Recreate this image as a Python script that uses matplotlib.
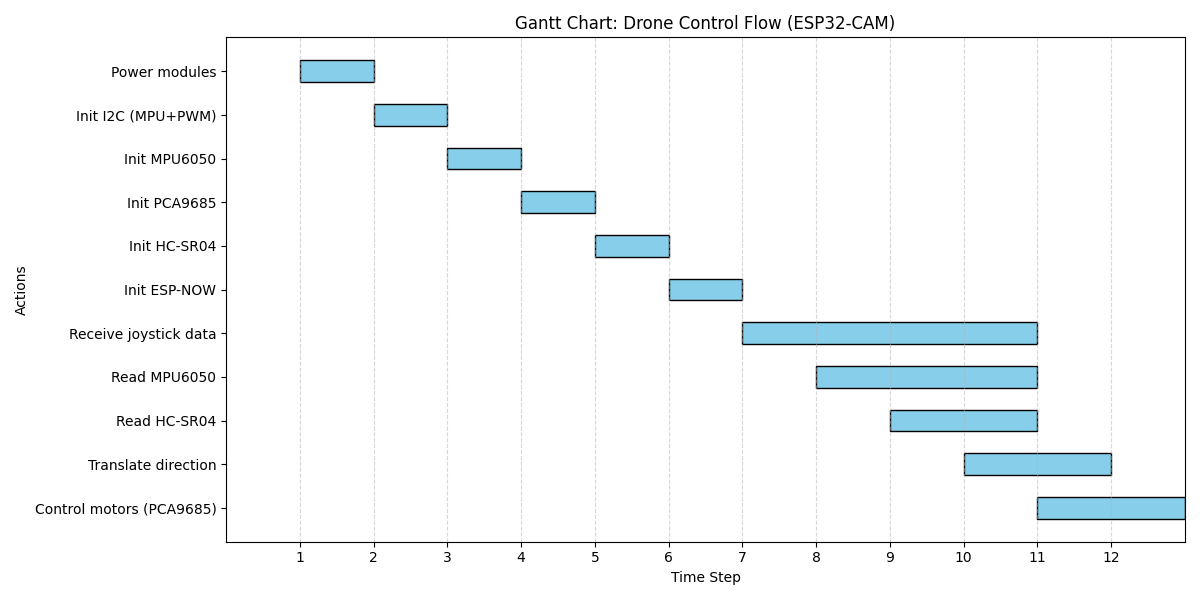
import matplotlib
matplotlib.use('Agg')
import matplotlib.pyplot as plt

# Tasks and timing (time steps)
tasks = [
    'Power modules',
    'Init I2C (MPU+PWM)',
    'Init MPU6050',
    'Init PCA9685',
    'Init HC-SR04',
    'Init ESP-NOW',
    'Receive joystick data',
    'Read MPU6050',
    'Read HC-SR04',
    'Translate direction',
    'Control motors (PCA9685)',
]
starts = [1, 2, 3, 4, 5, 6, 7, 8, 9, 10, 11]
durations = [1, 1, 1, 1, 1, 1, 4, 3, 2, 2, 2]
xticks = [1, 2, 3, 4, 5, 6, 7, 8, 9, 10, 11, 12]

fig, ax = plt.subplots(figsize=(12, 6))

ax.barh(tasks, durations, left=starts, height=0.5,
        color='skyblue', edgecolor='black')

ax.invert_yaxis()
ax.set_xlim(0, 13)
ax.set_xticks(xticks)
ax.set_xlabel('Time Step')
ax.set_ylabel('Actions')
ax.set_title('Gantt Chart: Drone Control Flow (ESP32-CAM)')
ax.grid(axis='x', linestyle='--', alpha=0.5)

plt.tight_layout()
plt.savefig('out.png', dpi=100)
